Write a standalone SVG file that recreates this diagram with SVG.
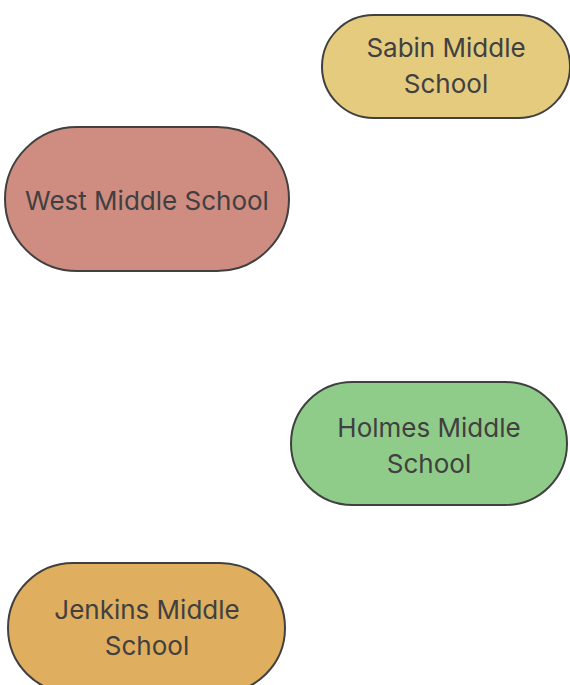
<svg xmlns="http://www.w3.org/2000/svg" width="570" height="685" viewBox="0 0 570 685">
<style>
.n{stroke:#404040;stroke-width:2}
.t{font-family:Inter,"Liberation Sans",sans-serif;font-size:26px;fill:#404040;text-anchor:middle}
</style>
<rect width="570" height="685" fill="#ffffff"/>
<g id="connectors"/>
<g id="sabin">
<rect class="n" x="322" y="15" width="248" height="103" rx="51.5" fill="#E5CB7E"/>
<text class="t" x="446" y="57">Sabin Middle</text>
<text class="t" x="446" y="93">School</text>
</g>
<g id="west">
<rect class="n" x="5" y="127" width="284" height="144" rx="72" fill="#CF8C80"/>
<text class="t" x="147" y="210">West Middle School</text>
</g>
<g id="holmes">
<rect class="n" x="291" y="382" width="276" height="123" rx="61.5" fill="#8FCC8A"/>
<text class="t" x="429" y="437">Holmes Middle</text>
<text class="t" x="429" y="473">School</text>
</g>
<g id="jenkins">
<rect class="n" x="8" y="563" width="277" height="130" rx="65" fill="#DFAE5F"/>
<text class="t" x="147" y="619">Jenkins Middle</text>
<text class="t" x="147" y="655">School</text>
</g>
</svg>
